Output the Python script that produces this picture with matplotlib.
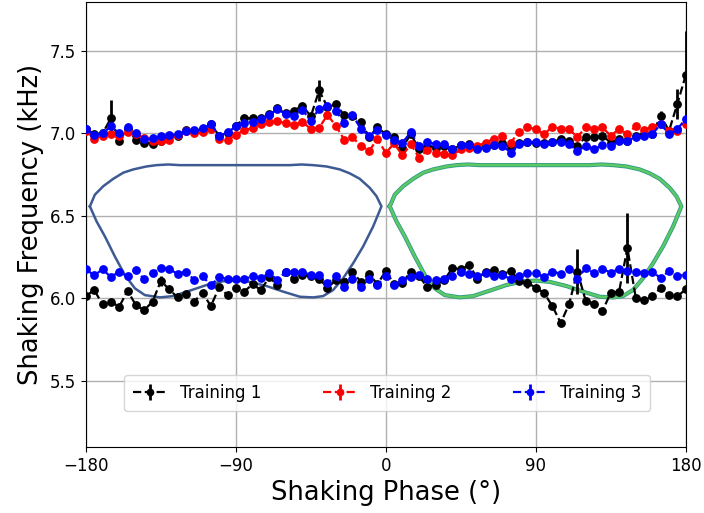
import numpy as np
import matplotlib.pyplot as plt

# shaking phase grid (deg), one measurement every 5 degrees
phase = np.arange(-180, 181, 5)

# upper branch (kHz)
black_up = [7.027, 6.996, 7.000, 7.092, 6.955, 7.027, 6.961, 6.945, 6.939, 6.955,
            6.986, 6.986, 7.020, 7.016, 7.027, 7.057, 6.986, 7.000, 7.047, 7.092,
            7.092, 7.094, 7.118, 7.153, 7.122, 7.139, 7.169, 7.104, 7.261, 7.160,
            7.176, 7.112, 7.105, 7.069, 6.980, 7.037, 6.995, 6.976, 6.914, 6.996,
            6.904, 6.925, 6.914, 6.925, 6.904, 6.929, 6.935, 6.914, 6.925, 6.929,
            6.945, 6.914, 6.945, 6.949, 6.941, 6.945, 6.949, 6.965, 6.955, 6.925,
            6.980, 6.976, 6.986, 6.945, 6.965, 6.955, 6.986, 6.996, 6.996, 7.108,
            7.016, 7.180, 7.353]
red_up = [7.016, 6.969, 6.986, 6.996, 6.986, 7.006, 6.996, 6.971, 6.955, 6.955,
          6.959, 6.990, 7.012, 7.000, 7.006, 7.027, 6.967, 6.963, 6.990, 7.022,
          7.031, 7.057, 7.067, 7.073, 7.063, 7.050, 7.070, 7.027, 7.035, 7.112,
          7.047, 6.963, 6.976, 6.927, 6.894, 6.967, 6.882, 6.940, 6.867, 6.935,
          6.853, 6.900, 6.884, 6.873, 6.867, 6.904, 6.914, 6.925, 6.945, 6.969,
          6.986, 6.945, 7.010, 7.037, 7.027, 6.996, 7.041, 7.027, 7.027, 6.976,
          7.041, 7.027, 7.037, 6.986, 7.027, 6.996, 7.043, 7.022, 7.041, 7.057,
          7.016, 7.016, 7.057]
blue_up = [7.027, 6.992, 7.000, 7.043, 7.000, 7.041, 7.000, 6.965, 6.971, 6.982,
           6.988, 6.996, 7.016, 7.020, 7.031, 7.057, 6.984, 7.006, 7.043, 7.063,
           7.071, 7.088, 7.112, 7.149, 7.116, 7.108, 7.143, 7.078, 7.149, 7.169,
           7.139, 7.063, 7.114, 7.027, 6.986, 7.020, 6.990, 6.961, 6.945, 7.006,
           6.925, 6.949, 6.935, 6.935, 6.904, 6.931, 6.931, 6.904, 6.914, 6.929,
           6.925, 6.884, 6.935, 6.949, 6.949, 6.935, 6.949, 6.949, 6.935, 6.894,
           6.925, 6.904, 6.929, 6.925, 6.955, 6.955, 6.980, 6.986, 6.996, 7.057,
           6.996, 7.027, 7.088]

# lower branch (kHz)
black_low = [6.014, 6.051, 5.963, 5.980, 5.949, 6.047, 5.959, 5.929, 5.980, 6.106,
             6.055, 6.006, 6.024, 5.980, 6.035, 5.953, 6.067, 6.020, 6.065, 6.041,
             6.086, 6.051, 6.127, 6.082, 6.160, 6.116, 6.143, 6.133, 6.120, 6.065,
             6.110, 6.100, 6.159, 6.102, 6.147, 6.086, 6.167, 6.085, 6.095, 6.163,
             6.133, 6.068, 6.082, 6.110, 6.184, 6.176, 6.204, 6.120, 6.163, 6.173,
             6.145, 6.168, 6.106, 6.095, 6.065, 6.033, 5.953, 5.851, 5.965, 6.163,
             5.985, 5.968, 5.922, 6.035, 6.040, 6.306, 6.005, 5.988, 6.012, 6.063,
             6.020, 6.012, 6.055]
blue_low = [6.177, 6.139, 6.177, 6.129, 6.163, 6.133, 6.173, 6.116, 6.157, 6.184,
            6.180, 6.147, 6.163, 6.112, 6.133, 6.082, 6.127, 6.118, 6.116, 6.118,
            6.133, 6.122, 6.153, 6.112, 6.163, 6.159, 6.159, 6.143, 6.139, 6.092,
            6.133, 6.067, 6.118, 6.067, 6.118, 6.082, 6.133, 6.082, 6.112, 6.129,
            6.143, 6.116, 6.112, 6.116, 6.133, 6.163, 6.147, 6.133, 6.153, 6.137,
            6.143, 6.116, 6.133, 6.153, 6.153, 6.129, 6.163, 6.149, 6.180, 6.118,
            6.184, 6.153, 6.178, 6.157, 6.178, 6.167, 6.163, 6.153, 6.163, 6.122,
            6.167, 6.137, 6.143]

# the few noticeably large error bars (phase: half-width in kHz)
black_up_big_err = {-165: 0.11, -40: 0.066, 165: 0.03, 175: 0.09, 180: 0.27}
black_low_big_err = {-135: 0.03, 85: 0.03, 115: 0.135, 145: 0.21}
base_err = 0.01

# model resonance loops (phase in deg, frequency in kHz)
loop_l_phase = [-177.6, -174.6, -169.6, -163.6, -157.6, -151.6, -143.6, -137.6, -130.6,
                -123.6, -57.6, -50.6, -43.6, -35.6, -27.6, -21.6, -15.6, -9.6, -5.6,
                -2.6, -7.6, -13.6, -19.6, -25.6, -31.6, -37.6, -43.6, -51.6, -61.6,
                -71.6, -81.6, -89.6, -97.6, -107.6, -117.6, -127.6, -135.6, -144.6,
                -150.6, -156.6, -162.6, -168.6, -173.6, -177.6]
loop_l_freq = [6.558, 6.629, 6.680, 6.725, 6.762, 6.782, 6.800, 6.808, 6.812,
               6.808, 6.808, 6.812, 6.808, 6.800, 6.782, 6.758, 6.725, 6.670, 6.620,
               6.558, 6.436, 6.315, 6.213, 6.122, 6.051, 6.014, 6.006, 6.010, 6.041,
               6.075, 6.100, 6.108, 6.104, 6.081, 6.047, 6.014, 6.006, 6.020,
               6.061, 6.142, 6.254, 6.376, 6.467, 6.558]
loop_r_phase = [2.4, 5.4, 10.4, 16.4, 22.4, 28.4, 36.4, 42.4, 49.4,
                56.4, 122.4, 129.4, 136.4, 144.4, 152.4, 158.4, 164.4, 170.4, 174.4,
                177.4, 172.4, 166.4, 160.4, 154.4, 148.4, 142.4, 136.4, 128.4, 118.4,
                108.4, 98.4, 90.4, 82.4, 72.4, 62.4, 52.4, 44.4, 35.4,
                29.4, 23.4, 17.4, 11.4, 6.4, 2.4]
loop_r_freq = loop_l_freq

fig = plt.figure(figsize=(7.04, 5.13), dpi=100)
ax = fig.add_axes([0.122, 0.129, 0.852, 0.868])

ax.plot(loop_l_phase, loop_l_freq, color='#3d5a93', lw=1.8, zorder=2)
ax.plot(loop_r_phase, loop_r_freq, color='#2b9a8a', lw=3.0, zorder=2)
ax.plot(loop_r_phase, loop_r_freq, color='#5ec962', lw=1.8, zorder=2)


def errs(big, n=len(phase)):
    e = np.full(n, base_err)
    for p, v in big.items():
        e[list(phase).index(p)] = v
    return e


style = dict(fmt='o--', ms=5.3, lw=1.6, elinewidth=2.0, capsize=0, zorder=3)
ax.errorbar(phase, black_up, yerr=errs(black_up_big_err), color='black',
            label='Training 1', **style)
ax.errorbar(phase, red_up, yerr=base_err, color='red', label='Training 2', **style)
ax.errorbar(phase, blue_up, yerr=base_err, color='blue', label='Training 3', **style)
ax.errorbar(phase, black_low, yerr=errs(black_low_big_err), color='black', **style)
ax.errorbar(phase, blue_low, yerr=base_err, color='blue', **style)

ax.set_xlim(-180, 180)
ax.set_ylim(5.1, 7.8)
ax.set_xticks([-180, -90, 0, 90, 180])
ax.set_yticks([5.5, 6.0, 6.5, 7.0, 7.5])
ax.tick_params(labelsize=12)
ax.grid(True, color='#b0b0b0', lw=1.0)
ax.set_axisbelow(True)
ax.set_xlabel('Shaking Phase (°)', fontsize=18.5)
ax.set_ylabel('Shaking Frequency (kHz)', fontsize=18.5)

ax.legend(loc='lower left', bbox_to_anchor=(0.05, 0.062, 0.905, 0.09), mode='expand',
          ncol=3, fontsize=12, handlelength=2.0, borderpad=0.55, markerscale=0.85)

fig.savefig('out.png', dpi=100)
